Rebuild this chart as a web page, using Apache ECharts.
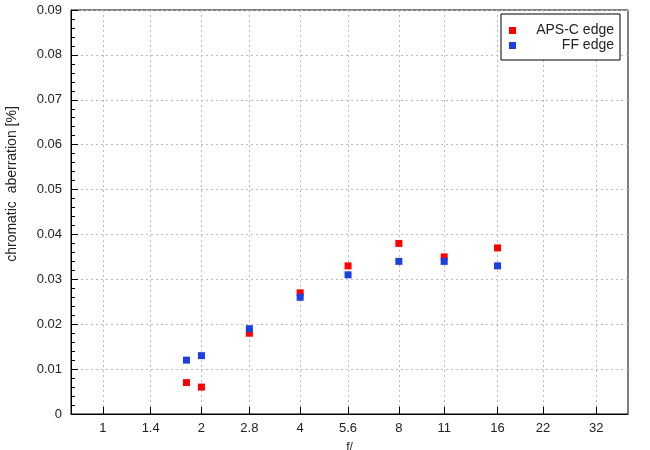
<!DOCTYPE html>
<html>
<head>
<meta charset="utf-8">
<script src="https://cdn.jsdelivr.net/npm/echarts@6/dist/echarts.min.js"></script>
<style>
  html, body { margin: 0; padding: 0; background: #fff; }
  #chart { width: 650px; height: 450px; }
</style>
</head>
<body>
<div id="chart"></div>
<script>
// f-numbers where the measurements were taken
const apertures = [1.8, 2, 2.8, 4, 5.6, 8, 11, 16];
const apscEdge = [0.007, 0.006, 0.018, 0.027, 0.033, 0.038, 0.035, 0.037];
const ffEdge = [0.012, 0.013, 0.019, 0.026, 0.031, 0.034, 0.034, 0.033];
// x tick labels (full stops)
const fTicks = ['1', '1.4', '2', '2.8', '4', '5.6', '8', '11', '16', '22', '32'];

// x axis is logarithmic in f-number, drawn as log2 on a value axis
const lg = v => Math.log2(v);
const tickPos = fTicks.map(t => lg(Number(t)));

const font = 'Liberation Sans, Arial, sans-serif';
const txt = '#222';

const toPoints = vals => apertures.map((f, i) => [lg(f), vals[i]]);

const myChart = echarts.init(document.getElementById('chart'));
const option = {
  animation: false,
  textStyle: { fontFamily: font },
  grid: {
    left: 71, right: 22, top: 10, bottom: 36,
    outerBoundsMode: 'none',
    containLabel: false,
    show: true, borderColor: '#000', borderWidth: 1
  },
  legend: {
    orient: 'vertical',
    left: 501, top: 14,
    padding: [9, 6, 7, 8],
    itemGap: 0,
    itemWidth: 7, itemHeight: 7,
    borderColor: '#000', borderWidth: 1,
    backgroundColor: '#fff',
    formatter: name => '{n|' + name + '}',
    textStyle: {
      rich: {
        n: { width: 93, height: 15, align: 'right', fontSize: 14, lineHeight: 15, color: txt, fontFamily: font }
      }
    }
  },
  xAxis: {
    type: 'value',
    min: lg(0.8), max: lg(40),
    name: 'f/',
    nameLocation: 'middle',
    nameGap: 28,
    nameTextStyle: { fontSize: 12, color: txt },
    axisLine: { onZero: false, lineStyle: { color: '#000', width: 1 } },
    axisTick: { inside: true, length: 7, customValues: tickPos, lineStyle: { color: '#000' } },
    axisLabel: {
      customValues: tickPos, fontSize: 13, color: txt, margin: 8,
      formatter: v => {
        let best = 0;
        tickPos.forEach((p, i) => { if (Math.abs(p - v) < Math.abs(tickPos[best] - v)) best = i; });
        return fTicks[best];
      }
    },
    splitLine: { show: true, lineStyle: { color: '#bbb', type: [2, 3] } }
  },
  yAxis: {
    type: 'value',
    min: 0, max: 0.09, interval: 0.01,
    name: 'chromatic  aberration [%]',
    nameLocation: 'middle',
    nameGap: 52,
    nameTextStyle: { fontSize: 14, color: txt, padding: [0, 0, 0, 56] },
    axisLine: { show: true, onZero: false, lineStyle: { color: '#000', width: 1 } },
    axisTick: { show: true, inside: true, length: 7, lineStyle: { color: '#000' } },
    minorTick: { show: true, splitNumber: 5, length: 4, lineStyle: { color: '#000' } },
    axisLabel: { fontSize: 13, color: txt, margin: 9 },
    splitLine: { show: true, lineStyle: { color: '#bbb', type: [2, 3] } }
  },
  series: [
    {
      name: 'APS-C edge',
      type: 'scatter',
      symbol: 'rect',
      symbolSize: 7,
      itemStyle: { color: '#ff0000', opacity: 1 },
      data: toPoints(apscEdge)
    },
    {
      name: 'FF edge',
      type: 'scatter',
      symbol: 'rect',
      symbolSize: 7,
      itemStyle: { color: '#1a40e0', opacity: 1 },
      data: toPoints(ffEdge)
    }
  ]
};
myChart.setOption(option);
</script>
</body>
</html>
